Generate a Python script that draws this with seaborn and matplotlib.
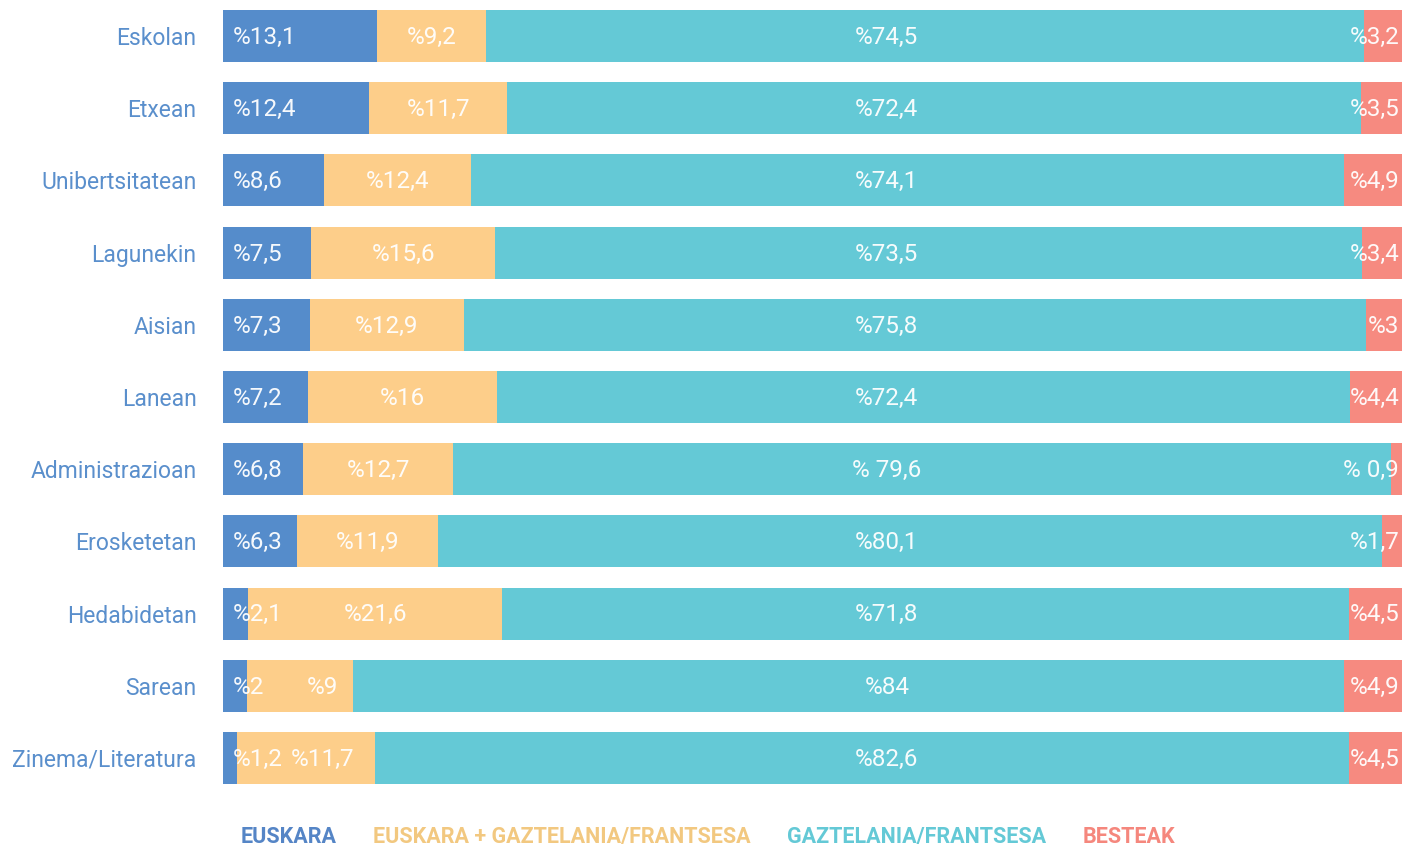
import numpy as np
import pandas as pd
import seaborn as sns
import matplotlib.pyplot as plt
from matplotlib.patches import Patch

categories = ["Eskolan", "Etxean", "Unibertsitatean", "Lagunekin", "Aisian", "Lanean",
              "Administrazioan", "Erosketetan", "Hedabidetan", "Sarean", "Zinema/Literatura"]
euskara = [13.1, 12.4, 8.6, 7.5, 7.3, 7.2, 6.8, 6.3, 2.1, 2.0, 1.2]
elebiduna = [9.2, 11.7, 12.4, 15.6, 12.9, 16.0, 12.7, 11.9, 21.6, 9.0, 11.7]
erdara = [74.5, 72.4, 74.1, 73.5, 75.8, 72.4, 79.6, 80.1, 71.8, 84.0, 82.6]
besteak = [3.2, 3.5, 4.9, 3.4, 3.0, 4.4, 0.9, 1.7, 4.5, 4.9, 4.5]
series_names = ["EUSKARA", "EUSKARA + GAZTELANIA/FRANTSESA", "GAZTELANIA/FRANTSESA", "BESTEAK"]
spaced = ["Administrazioan"]  # azken bi etiketak "% 79,6" eran idatzita

colors = ["#558ccb", "#fdce8a", "#64c9d6", "#f68a80"]
legend_colors = ["#5585c6", "#f2c880", "#64c9d6", "#f5877d"]

sns.set_theme(style="white")
plt.rcParams["font.family"] = ["Roboto", "DejaVu Sans"]

df = pd.DataFrame({"cat": categories, "s1": euskara, "s2": elebiduna, "s3": erdara, "s4": besteak})
total = df[["s1", "s2", "s3", "s4"]].sum(axis=1)
for c in ["s1", "s2", "s3", "s4"]:
    df[c + "p"] = df[c] / total * 100
df["c1"] = df["s1p"]
df["c2"] = df["c1"] + df["s2p"]
df["c3"] = df["c2"] + df["s3p"]
df["c4"] = df["c3"] + df["s4p"]

fig = plt.figure(figsize=(14.02, 8.5), dpi=100)
ax = fig.add_axes([223 / 1402, 56 / 850, 1179 / 1402, 794 / 850])

# pilatutako barrak: handienetik txikienera
for col, color in zip(["c4", "c3", "c2", "c1"], colors[::-1]):
    sns.barplot(data=df, x=col, y="cat", color=color, width=0.72, saturation=1,
                orient="h", ax=ax, edgecolor="none", linewidth=0)

ax.set_xlim(0, 100)
ax.set_ylim(10.5, -0.5)
ax.set_xlabel("")
ax.set_ylabel("")
ax.set_xticks([])
sns.despine(ax=ax, left=True, bottom=True)
ax.tick_params(axis="y", length=0, pad=19, labelsize=16.5, labelcolor="#5a8fcc")


def fmt(v, space=False):
    s = f"{v:g}".replace(".", ",")
    return "% " + s if space else "%" + s


txt = dict(color="white", fontsize=17.5, va="center", alpha=0.95, textcoords="offset points")
for i, row in df.iterrows():
    sp = row["cat"] in spaced
    # horia: erdian, baina urdinaren etiketatik aparte
    x2 = max((row["c1"] + row["c2"]) / 2, 8.4)
    ax.annotate(fmt(row["s1"]), (0, i), xytext=(7, -1), ha="left", **txt)
    ax.annotate(fmt(row["s2"]), (x2, i), xytext=(0, -1), ha="center", **txt)
    ax.annotate(fmt(row["s3"], sp), (56.3, i), xytext=(0, -1), ha="center", **txt)
    ax.annotate(fmt(row["s4"], sp), (100, i), xytext=(-2, -1), ha="right", **txt)

handles = [Patch(color="none") for _ in series_names]
fig.legend(handles, series_names, loc="center", bbox_to_anchor=(0.505, 0.0155), ncol=4,
           frameon=False, handlelength=0, handletextpad=0, columnspacing=1.7,
           labelcolor=legend_colors, prop={"family": "Roboto", "weight": "bold", "size": 15.5})

fig.savefig("out.png", dpi=100)
